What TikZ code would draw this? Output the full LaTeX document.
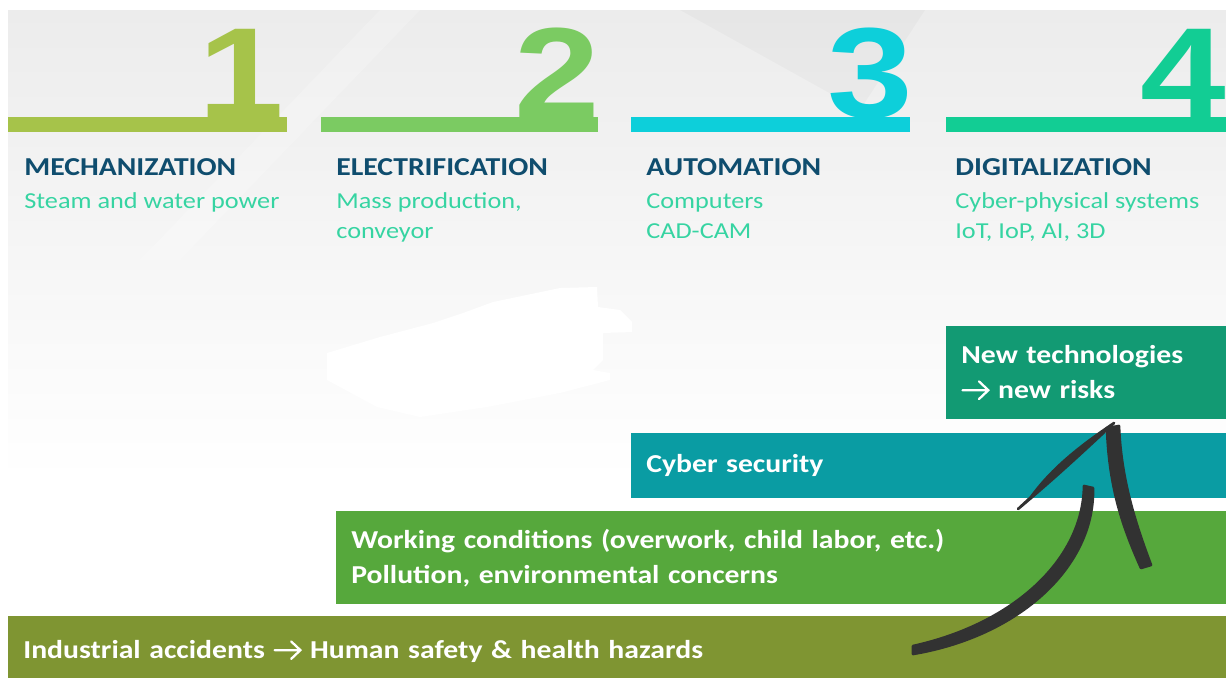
\documentclass[tikz,border=0pt]{standalone}
\usepackage{fontspec}
\setmainfont{Carlito}[FakeStretch=1.15]
\newfontfamily\numfont{Liberation Sans}[FakeStretch=1.2]
\usepackage{tikz}

\definecolor{barone}{HTML}{A6C34A}
\definecolor{bartwo}{HTML}{7BCB62}
\definecolor{barthree}{HTML}{0DCFDA}
\definecolor{barfour}{HTML}{12CD94}
\definecolor{titleblue}{HTML}{0F4D6E}
\definecolor{subgreen}{HTML}{36D4A2}
\definecolor{techbox}{HTML}{129A73}
\definecolor{cyberbox}{HTML}{0A9CA3}
\definecolor{workbox}{HTML}{56A83C}
\definecolor{accbox}{HTML}{7F9532}
\definecolor{inkgrey}{HTML}{323232}
\definecolor{bggrey}{HTML}{ECECEC}

\newcommand{\toarrow}{\tikz[baseline=0pt]{\draw[white, line width=1.3pt, line cap=round]
  (0pt,0.32em)--(1em,0.32em) (0.64em,0.66em)--(1em,0.32em)--(0.64em,-0.02em);}}

\begin{document}
\begin{tikzpicture}[x=0.02cm, y=-0.02cm,
  phase/.style={anchor=base west, inner sep=0pt, text=titleblue, font=\fontsize{14.7}{17}\selectfont\bfseries},
  detail/.style={anchor=base west, inner sep=0pt, align=left, text=subgreen, font=\fontsize{13}{17}\selectfont},
  bignum/.style={anchor=base east, inner sep=0pt, font=\numfont\bfseries\fontsize{73}{73}\selectfont},
  riskbox/.style={anchor=north west, inner xsep=0.3cm, inner ysep=0pt, align=left, text=white, font=\fontsize{14.7}{19.8}\selectfont\bfseries},
  ink/.style={fill=inkgrey, draw=inkgrey, line width=1.5pt, line join=round}]
\useasboundingbox (0,0) rectangle (1226,677);
\fill[white] (0,0) rectangle (1226,677);
\shade[top color=bggrey, bottom color=white] (8,10) rectangle (1230,480);
\fill[white, opacity=0.2] (140,260)--(380,10)--(420,10)--(180,260)--cycle;
\fill[black, opacity=0.025] (680,10)--(925,10)--(860,110)--cycle;
\fill[white] (327,353)--(380,337)--(433,323)--(463,313)--(493,302)--(560,288)--(597,287)--(598,307)
  --(620,310)--(632,322)--(632,332)--(603,333)--(603,360)--(593,370)--(610,373)--(610,380)--(560,393)--(487,407)
  --(420,417)--(377,407)--(327,380)--cycle;

\fill[barone] (8,117) rectangle (287,132);
\node[bignum, text=barone] (one) at (284,117) {1};
\fill[bartwo] (321,117) rectangle (598,132);
\node[bignum, text=bartwo] (two) at (600,117) {2};
\fill[barthree] (631,117) rectangle (910,132);
\node[bignum, text=barthree] (three) at (913,117) {3};
\fill[barfour] (946,117) rectangle (1230,132);
\node[bignum, text=barfour] (four) at (1226,117) {4};

\node[phase] (mech) at (24,175) {MECHANIZATION};
\node[detail] (mechd) at (24,208) {Steam and water power};
\node[phase] (elec) at (336,175) {ELECTRIFICATION};
\node[detail] (elecd) at (336,238) {Mass production,\\conveyor};
\node[phase] (auto) at (646,175) {AUTOMATION};
\node[detail] (autod) at (646,238) {Computers\\CAD-CAM};
\node[phase] (digi) at (955,175) {DIGITALIZATION};
\node[detail] (digid) at (955,238) {Cyber-physical systems\\IoT, IoP, AI, 3D};

\node[riskbox, fill=accbox, text width=23.84cm, minimum height=1.4cm] (acc) at (8,616) {Industrial accidents \toarrow{} Human safety \& health hazards};
\node[riskbox, fill=workbox, text width=17.28cm, minimum height=1.86cm] (work) at (336,511) {Working conditions (overwork, child labor, etc.)\\Pollution, environmental concerns};
\node[riskbox, fill=cyberbox, text width=11.38cm, minimum height=1.3cm] (cyber) at (631,433) {Cyber security};
\node[riskbox, fill=techbox, text width=5.08cm, minimum height=1.86cm] (tech) at (946,326) {New technologies\\\toarrow{} new risks};

\filldraw[ink] (913,654) .. controls (1020,636) and (1095,566) .. (1093,488)
  -- (1084,486) .. controls (1083,560) and (1013,624) .. (913,646) -- cycle;
\filldraw[ink] (1018,509) .. controls (1055,478) and (1085,450) .. (1114,423)
  .. controls (1080,446) and (1052,468) .. (1031,497) -- cycle;
\filldraw[ink] (1107,428) .. controls (1109,490) and (1124,530) .. (1141,568)
  -- (1151,565) .. controls (1136,525) and (1121,480) .. (1119,426) -- cycle;
\end{tikzpicture}
\end{document}
